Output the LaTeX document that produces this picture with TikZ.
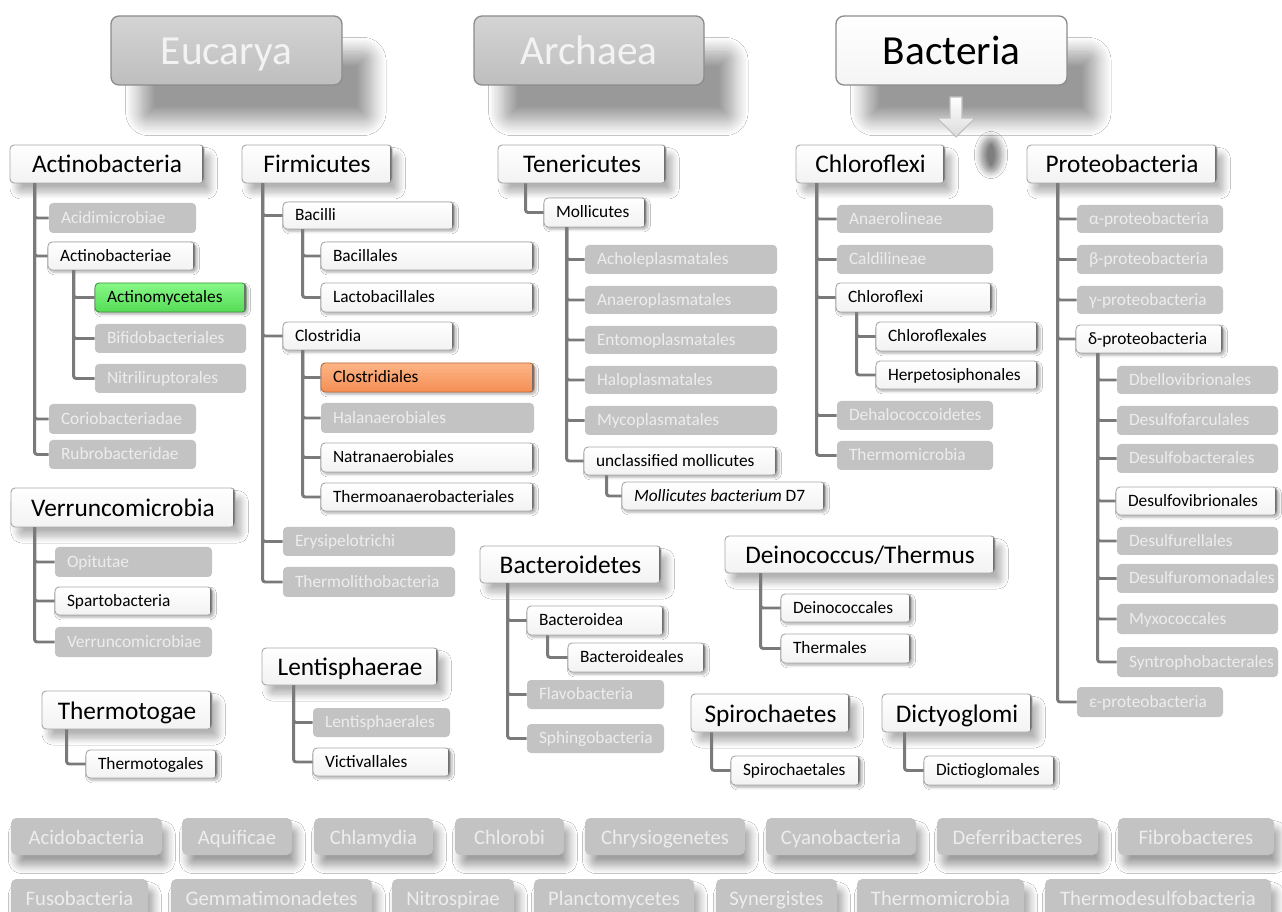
\documentclass[tikz,border=0pt]{standalone}
\usepackage{fontspec}
\setmainfont{Carlito}
\usetikzlibrary{calc,shadows.blur}
\definecolor{gfill}{HTML}{C3C3C3}
\definecolor{gtext}{HTML}{EDEDED}
\definecolor{lgray}{HTML}{7A7A7A}
\definecolor{bord}{HTML}{A8A8A8}
\definecolor{bordd}{HTML}{707070}
\definecolor{topbord}{HTML}{8C8C8C}
\tikzset{
  base/.style={rounded corners=3pt, inner xsep=9pt, inner ysep=0pt, align=left},
  small/.style={font=\fontsize{13}{15}\selectfont, text height=10.4pt, text depth=2.3pt},
  wbase/.style={base, small, draw=bord, line width=0.7pt, top color=white, bottom color=black!5, text=black,
    path picture={\draw[bordd, line width=3pt] (path picture bounding box.north east) -- (path picture bounding box.south east);}},
  smallshadow/.style={blur shadow={shadow xshift=1.5pt, shadow yshift=-1.8pt, shadow blur radius=1.8pt, shadow blur steps=5, shadow opacity=30}},
  wb/.style={wbase, smallshadow},
  gb/.style={base, small, fill=gfill, text=gtext},
  grn/.style={wb, top color={rgb,255:red,135;green,248;blue,135}, bottom color={rgb,255:red,85;green,220;blue,85}, draw={rgb,255:red,60;green,150;blue,60}},
  org/.style={wb, top color={rgb,255:red,253;green,180;blue,134}, bottom color={rgb,255:red,245;green,143;blue,85}, draw={rgb,255:red,190;green,105;blue,55}},
  hdr/.style={wbase, align=center, font=\fontsize{19}{22}\selectfont, text height=16.9pt, text depth=3.4pt,
    blur shadow={shadow xshift=5pt, shadow yshift=-7pt, shadow blur radius=5pt, shadow blur steps=10, shadow opacity=30}},
  topbase/.style={base, align=center, font=\fontsize{31}{36}\selectfont, text height=27.3pt, text depth=5.6pt, rounded corners=6pt, line width=1pt,
    blur shadow={shadow xshift=22pt, shadow yshift=-27pt, shadow blur radius=11pt, shadow blur steps=14, shadow opacity=40}},
  topg/.style={topbase, draw=topbord, top color={rgb,255:red,212;green,212;blue,212}, bottom color={rgb,255:red,190;green,190;blue,190}, text={rgb,255:red,243;green,243;blue,243}},
  topw/.style={topbase, draw=topbord, top color=white, bottom color=black!4, text=black},
  bt/.style={base, align=center, font=\fontsize{15.5}{18}\selectfont, text height=14.5pt, text depth=2.8pt, fill=gfill, text=gtext, rounded corners=4pt,
    blur shadow={shadow xshift=4pt, shadow yshift=-8pt, shadow blur radius=6pt, shadow blur steps=10, shadow opacity=38}},
  conn/.style={draw=lgray, line width=2.2pt, rounded corners=2pt},
  arrowsty/.style={draw=black!25, line width=0.8pt, top color=white, bottom color=black!14},
  blobsty/.style={blur shadow={shadow xshift=0pt, shadow yshift=0pt, shadow blur radius=5pt, shadow blur steps=10, shadow opacity=50}}
}
\newcommand\BoxAt[7]{%
  \pgfmathsetmacro\bxw{(#5-#3)*0.75}%
  \pgfmathsetmacro\bxh{(#6-#4)*0.75}%
  \pgfmathsetmacro\bxt{(#5-#3)*0.75-18}%
  \node[#1, minimum width=\bxw pt, minimum height=\bxh pt, text width=\bxt pt] (#2) at ({(#3+#5)/2},{(#4+#6)/2}) {\spaceskip=0pt\relax\xspaceskip=0pt\relax\mbox{#7}};%
}
\newcommand\Link[3]{\draw[conn] ($(#1.south west)+(#2,0)$) |- (#3.west);}
\begin{document}
\begin{tikzpicture}[x=0.75pt,y=-0.75pt]
\useasboundingbox (0,0) rectangle (1282,912);
\fill[white] (0,0) rectangle (1282,912);

% top domains
\BoxAt{topg}{euc}{111}{16}{342}{85}{Eucarya}
\BoxAt{topg}{arc}{474}{16}{704}{85}{Archaea}
\BoxAt{topw}{bac}{836}{16}{1067}{85}{Bacteria}
\path[blobsty] (991,155) ellipse (10 and 17);
\path[arrowsty] (950,97) -- (962,97) -- (962,118) -- (975,118) -- (956,137) -- (937,118) -- (950,118) -- cycle;

% headers
\BoxAt{hdr}{actino}{10}{145}{204}{183}{Actinobacteria}
\BoxAt{hdr}{firm}{242}{145}{392}{183}{Firmicutes}
\BoxAt{hdr}{tener}{498}{145}{666}{183}{Tenericutes}
\BoxAt{hdr}{chlx}{796}{145}{945}{183}{Chloroflexi}
\BoxAt{hdr}{prot}{1027}{145}{1217}{183}{Proteobacteria}
\BoxAt{hdr}{verr}{11}{488}{235}{527}{Verruncomicrobia}
\BoxAt{hdr}{thtog}{42}{691}{212}{729}{Thermotogae}
\BoxAt{hdr}{lent}{262}{648}{438}{685}{Lentisphaerae}
\BoxAt{hdr}{bacd}{480}{546}{661}{583}{Bacteroidetes}
\BoxAt{hdr}{dein}{725}{536}{995}{573}{Deinococcus/Thermus}
\BoxAt{hdr}{spir}{691}{694}{850}{732}{Spirochaetes}
\BoxAt{hdr}{dict}{882}{694}{1032}{732}{Dictyoglomi}

% Actinobacteria
\BoxAt{gb}{acidi}{49}{203}{196}{233}{Acidimicrobiae}
\BoxAt{wb}{actinoae}{48}{242}{195}{270}{Actinobacteriae}
\BoxAt{grn}{actinomy}{95}{283}{246}{312}{Actinomycetales}
\BoxAt{gb}{bifido}{95}{324}{246}{353}{Bifidobacteriales}
\BoxAt{gb}{nitri}{95}{364}{246}{393}{Nitriliruptorales}
\BoxAt{gb}{corio}{49}{404}{196}{434}{Coriobacteriadae}
\BoxAt{gb}{rubro}{49}{440}{196}{469}{Rubrobacteridae}

% Firmicutes
\BoxAt{wb}{bacilli}{283}{202}{454}{229}{Bacilli}
\BoxAt{wb}{bacillales}{321}{242}{534}{270}{Bacillales}
\BoxAt{wb}{lacto}{321}{283}{534}{312}{Lactobacillales}
\BoxAt{wb}{clostridia}{283}{322}{454}{350}{Clostridia}
\BoxAt{org}{clostridiales}{321}{363}{534}{392}{Clostridiales}
\BoxAt{gb}{halan}{321}{403}{534}{433}{Halanaerobiales}
\BoxAt{wb}{natran}{321}{443}{534}{472}{Natranaerobiales}
\BoxAt{wb}{thermoan}{321}{483}{534}{511}{Thermoanaerobacteriales}
\BoxAt{gb}{erysi}{283}{527}{455}{556}{Erysipelotrichi}
\BoxAt{gb}{thlitho}{283}{567}{455}{597}{Thermolithobacteria}

% Tenericutes
\BoxAt{wb}{moll}{544}{198}{646}{227}{Mollicutes}
\BoxAt{gb}{achole}{585}{245}{777}{274}{Acholeplasmatales}
\BoxAt{gb}{anaerop}{585}{286}{777}{314}{Anaeroplasmatales}
\BoxAt{gb}{entomo}{585}{326}{777}{354}{Entomoplasmatales}
\BoxAt{gb}{halop}{585}{366}{777}{394}{Haloplasmatales}
\BoxAt{gb}{mycop}{585}{406}{777}{435}{Mycoplasmatales}
\BoxAt{wb}{uncl}{584}{447}{777}{475}{unclassified mollicutes}
\BoxAt{wb}{mbd}{622}{482}{825}{510}{\textit{Mollicutes bacterium} D7}

% Chloroflexi
\BoxAt{gb}{anaerol}{837}{205}{993}{233}{Anaerolineae}
\BoxAt{gb}{caldil}{837}{245}{993}{274}{Caldilineae}
\BoxAt{wb}{chlxs}{836}{283}{992}{312}{Chloroflexi}
\BoxAt{wb}{chlxales}{876}{322}{1038}{351}{Chloroflexales}
\BoxAt{wb}{herpeto}{876}{361}{1038}{389}{Herpetosiphonales}
\BoxAt{gb}{dehalo}{837}{401}{993}{430}{Dehalococcoidetes}
\BoxAt{gb}{thmicro}{837}{441}{993}{470}{Thermomicrobia}

% Proteobacteria
\BoxAt{gb}{alpha}{1077}{205}{1223}{233}{α-proteobacteria}
\BoxAt{gb}{beta}{1077}{245}{1223}{274}{β-proteobacteria}
\BoxAt{gb}{gamma}{1077}{286}{1223}{314}{γ-proteobacteria}
\BoxAt{wb}{delta}{1076}{325}{1223}{353}{δ-proteobacteria}
\BoxAt{gb}{dbello}{1117}{366}{1278}{394}{Dbellovibrionales}
\BoxAt{gb}{dfarc}{1117}{406}{1278}{435}{Desulfofarculales}
\BoxAt{gb}{dbact}{1117}{444}{1278}{473}{Desulfobacterales}
\BoxAt{wb}{dvib}{1116}{487}{1277}{515}{Desulfovibrionales}
\BoxAt{gb}{dfur}{1117}{527}{1278}{555}{Desulfurellales}
\BoxAt{gb}{dfurom}{1117}{564}{1278}{593}{Desulfuromonadales}
\BoxAt{gb}{myxo}{1117}{604}{1278}{634}{Myxococcales}
\BoxAt{gb}{syntro}{1117}{647}{1278}{677}{Syntrophobacterales}
\BoxAt{gb}{eps}{1077}{687}{1223}{717}{ε-proteobacteria}

% Verruncomicrobia
\BoxAt{gb}{opit}{55}{547}{212}{577}{Opitutae}
\BoxAt{wb}{sparto}{55}{587}{212}{615}{Spartobacteria}
\BoxAt{gb}{verrae}{55}{627}{212}{657}{Verruncomicrobiae}

% Thermotogae, Lentisphaerae
\BoxAt{wb}{thtogales}{86}{750}{217}{778}{Thermotogales}
\BoxAt{gb}{lentales}{313}{708}{450}{737}{Lentisphaerales}
\BoxAt{wb}{victi}{313}{748}{450}{776}{Victivallales}

% Bacteroidetes
\BoxAt{wb}{bacdea}{527}{606}{664}{635}{Bacteroidea}
\BoxAt{wb}{bacdeales}{568}{643}{705}{672}{Bacteroideales}
\BoxAt{gb}{flavo}{527}{680}{664}{709}{Flavobacteria}
\BoxAt{gb}{sphingo}{527}{724}{664}{753}{Sphingobacteria}

% Deinococcus, Spirochaetes, Dictyoglomi
\BoxAt{wb}{deinoc}{781}{594}{911}{622}{Deinococcales}
\BoxAt{wb}{therm}{781}{634}{911}{663}{Thermales}
\BoxAt{wb}{spirales}{731}{756}{860}{785}{Spirochaetales}
\BoxAt{wb}{dictales}{924}{756}{1055}{785}{Dictioglomales}

% bottom rows
\BoxAt{bt}{acido}{11}{818}{162}{855}{Acidobacteria}
\BoxAt{bt}{aquif}{182}{818}{292}{855}{Aquificae}
\BoxAt{bt}{chlam}{314}{818}{433}{855}{Chlamydia}
\BoxAt{bt}{chlor}{455}{818}{564}{855}{Chlorobi}
\BoxAt{bt}{chrys}{585}{818}{745}{855}{Chrysiogenetes}
\BoxAt{bt}{cyano}{766}{818}{916}{855}{Cyanobacteria}
\BoxAt{bt}{deferr}{937}{818}{1098}{855}{Deferribacteres}
\BoxAt{bt}{fibro}{1118}{818}{1274}{855}{Fibrobacteres}
\BoxAt{bt}{fuso}{11}{879}{148}{917}{Fusobacteria}
\BoxAt{bt}{gemma}{171}{879}{372}{917}{Gemmatimonadetes}
\BoxAt{bt}{nitro}{392}{879}{514}{917}{Nitrospirae}
\BoxAt{bt}{planc}{534}{879}{694}{917}{Planctomycetes}
\BoxAt{bt}{syner}{716}{879}{837}{917}{Synergistes}
\BoxAt{bt}{thmictwo}{857}{879}{1024}{917}{Thermomicrobia}
\BoxAt{bt}{thdes}{1045}{879}{1271}{917}{Thermodesulfobacteria}

% connectors
\Link{actino}{25}{acidi}\Link{actino}{25}{actinoae}\Link{actino}{25}{corio}\Link{actino}{25}{rubro}
\Link{actinoae}{26}{actinomy}\Link{actinoae}{26}{bifido}\Link{actinoae}{26}{nitri}
\Link{firm}{21}{bacilli}\Link{firm}{21}{clostridia}\Link{firm}{21}{erysi}\Link{firm}{21}{thlitho}
\Link{bacilli}{20}{bacillales}\Link{bacilli}{20}{lacto}
\Link{clostridia}{20}{clostridiales}\Link{clostridia}{20}{halan}\Link{clostridia}{20}{natran}\Link{clostridia}{20}{thermoan}
\Link{tener}{28}{moll}
\Link{moll}{23}{achole}\Link{moll}{23}{anaerop}\Link{moll}{23}{entomo}\Link{moll}{23}{halop}\Link{moll}{23}{mycop}\Link{moll}{23}{uncl}
\Link{uncl}{23}{mbd}
\Link{chlx}{21}{anaerol}\Link{chlx}{21}{caldil}\Link{chlx}{21}{chlxs}\Link{chlx}{21}{dehalo}\Link{chlx}{21}{thmicro}
\Link{chlxs}{21}{chlxales}\Link{chlxs}{21}{herpeto}
\Link{prot}{31}{alpha}\Link{prot}{31}{beta}\Link{prot}{31}{gamma}\Link{prot}{31}{delta}\Link{prot}{31}{eps}
\Link{delta}{22}{dbello}\Link{delta}{22}{dfarc}\Link{delta}{22}{dbact}\Link{delta}{22}{dvib}\Link{delta}{22}{dfur}\Link{delta}{22}{dfurom}\Link{delta}{22}{myxo}\Link{delta}{22}{syntro}
\Link{verr}{24}{opit}\Link{verr}{24}{sparto}\Link{verr}{24}{verrae}
\Link{thtog}{25}{thtogales}
\Link{lent}{32}{lentales}\Link{lent}{32}{victi}
\Link{bacd}{28}{bacdea}\Link{bacd}{28}{flavo}\Link{bacd}{28}{sphingo}
\Link{bacdea}{21}{bacdeales}
\Link{dein}{36}{deinoc}\Link{dein}{36}{therm}
\Link{spir}{21}{spirales}
\Link{dict}{23}{dictales}
\end{tikzpicture}
\end{document}
